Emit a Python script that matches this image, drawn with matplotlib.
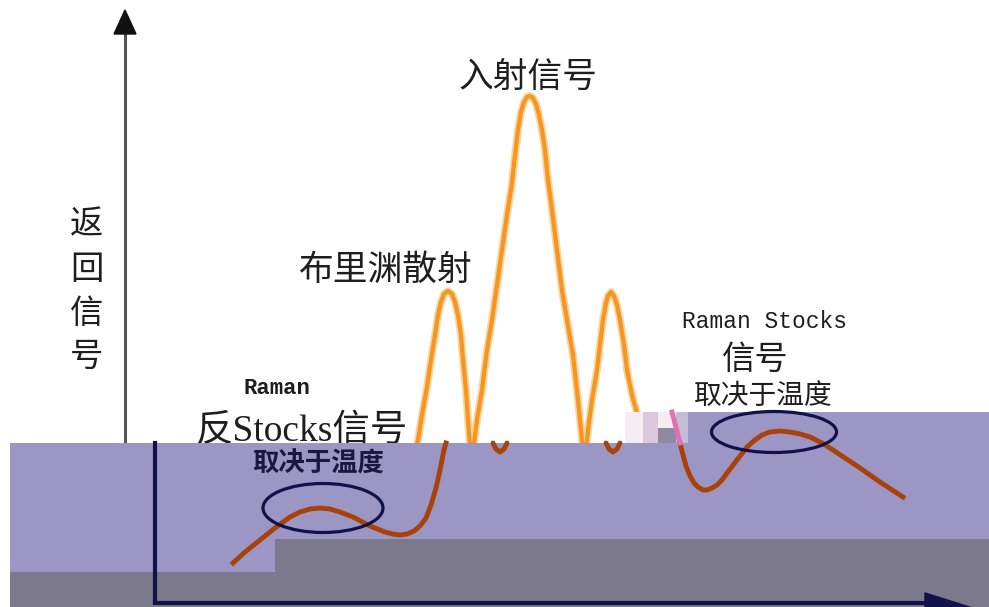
import matplotlib.pyplot as plt
from matplotlib.patches import Rectangle, Ellipse, Polygon

# --- dados (coordenadas em pixels da imagem) ---
orange_x = [414, 418, 422, 427, 431, 435, 438, 441, 444, 448, 452, 455, 458, 461, 463, 466, 468, 471,
            474, 477, 482, 487, 492, 497, 502, 507, 512, 515, 518, 521, 524, 527, 530, 533, 536,
            539, 542, 545, 548, 552, 557, 562, 567, 573, 578, 582, 585,
            588, 592, 597, 600, 603, 606, 608, 611, 614, 617, 620, 624, 627, 632, 637, 642]
orange_y = [460, 440, 415, 387, 360, 335, 315, 302, 294, 291, 294, 302, 315, 335, 360, 390, 420, 458,
            443, 420, 390, 350, 320, 285, 250, 215, 183, 155, 130, 112, 102, 97, 96, 98, 104,
            115, 130, 150, 180, 210, 250, 290, 320, 355, 400, 440, 460,
            430, 400, 370, 345, 320, 303, 296, 292, 296, 305, 320, 345, 370, 395, 413, 430]

dip_x = [493, 496, 500, 504, 507]
dip_y = [443, 449, 452, 449, 443]
dip2_x = [606, 609, 613, 617, 620]

brown_l_x = [233, 245, 260, 275, 290, 300, 310, 320, 330, 340, 353, 370, 385, 393, 400, 407,
             414, 420, 426, 431, 436, 440, 444, 446]
brown_l_y = [563, 552, 540, 528, 517, 512, 509, 508, 509, 512, 517, 526, 532, 534, 535, 534,
             531, 526, 518, 505, 488, 470, 450, 443]

brown_r_x = [680, 683, 686, 690, 694, 698, 703, 707, 712, 717, 722, 727, 737, 747, 755, 762,
             770, 780, 790, 800, 810, 822, 833, 848, 860, 880, 903]
brown_r_y = [443, 455, 466, 476, 483, 487, 490, 490, 488, 485, 480, 473, 460, 447, 440, 435,
             432, 431, 432, 434, 437, 443, 450, 460, 468, 482, 497]

ORANGE = '#f5961e'
BROWN = '#a8420a'
NAVY = '#13114a'
LAVENDER = '#9c96c4'
GRAY = '#7c798c'
TXT = '#1e1e1e'

plt.rcParams['font.family'] = ['Noto Sans CJK SC', 'DejaVu Sans']

fig = plt.figure(figsize=(9.89, 6.07), dpi=100)
ax = fig.add_axes([0, 0, 1, 1])
ax.set_xlim(0, 989)
ax.set_ylim(607, 0)
ax.axis('off')

# eixo vertical de cima (cinza)
ax.plot([125, 125], [30, 450], color='#555555', lw=2.2, zorder=1)
ax.add_patch(Polygon([[114, 34], [136, 34], [125, 10]], closed=True, color='#111111', zorder=1))

# curva laranja (sinal incidente + Brillouin)
ax.plot(orange_x, orange_y, color='#fbd3a0', lw=5.5, solid_joinstyle='round', zorder=2)
ax.plot(orange_x, orange_y, color=ORANGE, lw=3, solid_joinstyle='round', zorder=2)

# textos da parte branca
ax.text(528, 77, '入射信号', fontsize=25, color=TXT, ha='center', va='center', zorder=3)
ax.text(386, 270, '布里渊散射', fontsize=25, color=TXT, ha='center', va='center', zorder=3)
for ch, yy in zip('返回信号', [225, 269, 313, 356]):
    ax.text(87, yy, ch, fontsize=24, color=TXT, ha='center', va='center', zorder=3)
ax.text(277, 389, 'Raman', fontsize=16, fontweight='bold', family=['Liberation Mono'],
        color=TXT, ha='center', va='center', zorder=3)
ax.text(302, 431, '反Stocks信号', fontsize=27, family=['Liberation Serif', 'Noto Sans CJK SC'],
        color=TXT, ha='center', va='center', zorder=3)
ax.text(765, 321, 'Raman Stocks', fontsize=16.5, family=['Liberation Mono'],
        color=TXT, ha='center', va='center', zorder=3)
ax.text(755, 359, '信号', fontsize=24, color=TXT, ha='center', va='center', zorder=3)
ax.text(763, 396, '取决于温度', fontsize=20, color=TXT, ha='center', va='center', zorder=3)

# faixas sobrepostas (lilás e cinza)
ax.add_patch(Rectangle((10, 443), 979, 164, color=LAVENDER, lw=0, zorder=4))
ax.add_patch(Rectangle((688, 412), 301, 32, color=LAVENDER, lw=0, zorder=4))
ax.add_patch(Rectangle((625, 412), 63, 31, color='#f4eef4', lw=0, zorder=4))
ax.add_patch(Rectangle((643, 412), 15, 31, color='#dcc8dc', lw=0, zorder=4))
ax.add_patch(Rectangle((658, 428), 18, 15, color='#8e8aa0', lw=0, zorder=4))
ax.add_patch(Rectangle((676, 412), 12, 31, color='#c4bcd8', lw=0, zorder=4))
ax.add_patch(Rectangle((275, 539), 714, 68, color=GRAY, lw=0, zorder=4))
ax.add_patch(Rectangle((10, 572), 979, 35, color=GRAY, lw=0, zorder=4))

# curvas Raman (marrom)
ax.plot(dip_x, dip_y, color=BROWN, lw=3.5, solid_capstyle='round', zorder=5)
ax.plot(dip2_x, dip_y, color=BROWN, lw=3.5, solid_capstyle='round', zorder=5)
ax.plot(brown_l_x, brown_l_y, color=BROWN, lw=3.5, solid_joinstyle='round', zorder=5)
ax.plot(brown_r_x, brown_r_y, color=BROWN, lw=3.5, solid_joinstyle='round', zorder=5)
ax.plot([672, 680], [412, 443], color='#e070b0', lw=3.5, zorder=5)

# elipses
ax.add_patch(Ellipse((323, 508), 120, 49, fill=False, ec=NAVY, lw=2.3, zorder=6))
ax.add_patch(Ellipse((774, 432), 125, 41, fill=False, ec=NAVY, lw=2.3, zorder=6))

ax.text(318, 464, '取决于温度', fontsize=19, fontweight='bold', color='#1a1840',
        ha='center', va='center', zorder=6)

# eixos de baixo (azul escuro)
ax.plot([155, 155], [443, 603], color=NAVY, lw=3, zorder=6)
ax.plot([155, 930], [603, 603], color=NAVY, lw=3, zorder=6)
ax.add_patch(Polygon([[925, 593], [995, 615], [925, 615]], closed=True, color=NAVY, zorder=6))

fig.savefig('out.png', dpi=100, facecolor='white')
